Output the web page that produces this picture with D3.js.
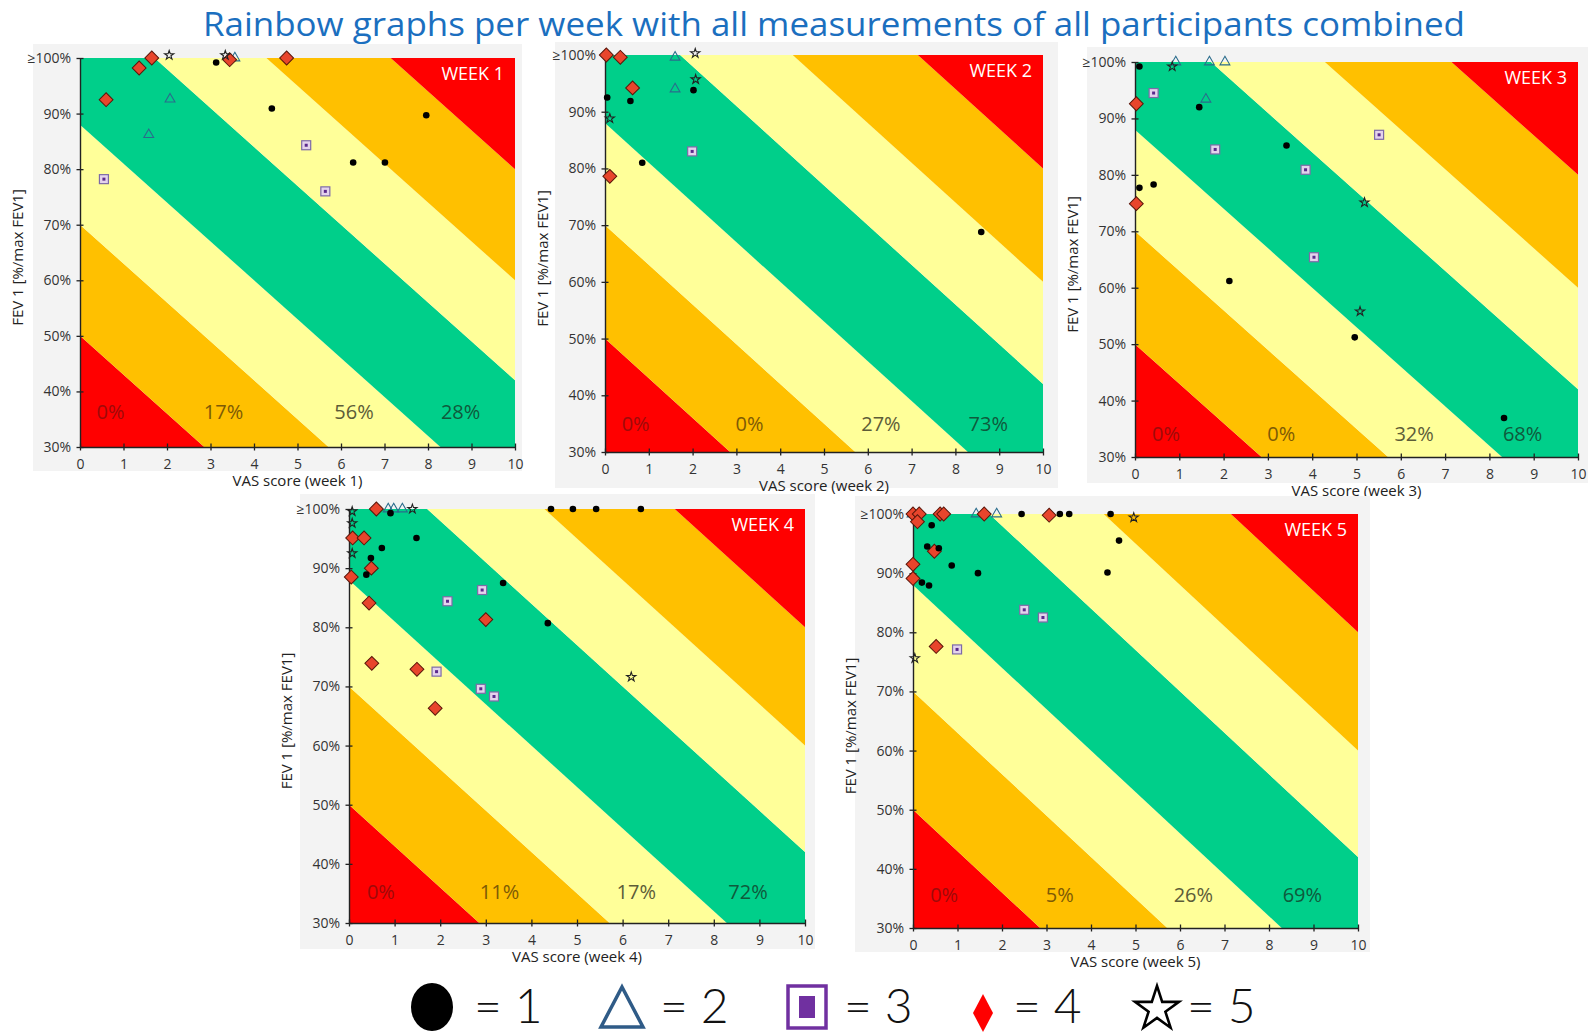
<!DOCTYPE html>
<html>
<head>
<meta charset="utf-8">
<script src="https://cdn.jsdelivr.net/npm/d3@7"></script>
<style>
  body { margin: 0; background: #fff; }
  svg { display: block; font-family: "Open Sans", "Noto Sans", sans-serif; }
</style>
</head>
<body>
<svg id="chart" width="1588" height="1033"></svg>
<script>
// ---------------- DATA ----------------
const titleText = "Rainbow graphs per week with all measurements of all participants combined";
const weekNames = ["WEEK 1", "WEEK 2", "WEEK 3", "WEEK 4", "WEEK 5"];
const xTitles = ["VAS score (week 1)", "VAS score (week 2)", "VAS score (week 3)", "VAS score (week 4)", "VAS score (week 5)"];
const yTitle = "FEV 1 [%/max FEV1]";
const vasTicks = [0, 1, 2, 3, 4, 5, 6, 7, 8, 9, 10];
const fevTicks = [30, 40, 50, 60, 70, 80, 90, 100];
const fevTickLabels = ["30%", "40%", "50%", "60%", "70%", "80%", "90%", "\u2265100%"];

// Zone boundary lines: FEV = b - 7 * VAS, b = FEV value where the line meets VAS 0
const zoneBoundaryB = [50, 70, 88, 112, 130, 150];
const zoneSlope = -7;
const zoneColors = ["#ff0000", "#ffc000", "#ffff99", "#00cf8a", "#ffff99", "#ffc000", "#ff0000"];

// Percentage labels per zone (red, orange, yellow, green)
const zoneLabelVAS = [0.7, 3.3, 6.3, 8.75];
const zoneLabelFEV = [36.3, 35, 34.2, 35.4, 35.6];
const week1Zones = ["0%", "17%", "56%", "28%"];
const week2Zones = ["0%", "0%", "27%", "73%"];
const week3Zones = ["0%", "0%", "32%", "68%"];
const week4Zones = ["0%", "11%", "17%", "72%"];
const week5Zones = ["0%", "5%", "26%", "69%"];

// Points: [VAS score, FEV1 %, participant]
const week1Points = [
  [3.13, 99.2, 1], [4.41, 90.9, 1], [6.28, 81.2, 1], [7.01, 81.2, 1], [7.96, 89.7, 1],
  [2.07, 92.6, 2], [1.58, 86.2, 2], [3.56, 100, 2],
  [0.55, 78.2, 3], [5.2, 84.3, 3], [5.64, 76.0, 3],
  [0.6, 92.5, 4], [1.36, 98.2, 4], [1.65, 100, 4], [3.44, 99.7, 4], [4.75, 100, 4],
  [2.05, 100.5, 5], [3.34, 100.5, 5]
];
const week2Points = [
  [0.05, 92.5, 1], [0.58, 91.9, 1], [2.02, 93.8, 1], [0.85, 81.0, 1], [8.59, 68.8, 1],
  [1.6, 99.6, 2], [1.6, 94.0, 2],
  [1.99, 83.0, 3],
  [0.03, 100, 4], [0.35, 99.6, 4], [0.63, 94.2, 4], [0.11, 78.6, 4],
  [2.06, 100.3, 5], [2.07, 95.7, 5], [0.11, 88.8, 5]
];
const week3Points = [
  [0.1, 99.2, 1], [0.1, 77.7, 1], [0.42, 78.3, 1], [1.45, 92.0, 1], [3.42, 85.2, 1],
  [2.13, 61.2, 1], [4.96, 51.2, 1], [8.33, 36.9, 1],
  [0.92, 100, 2], [1.68, 100, 2], [2.03, 100, 2], [1.6, 93.4, 2],
  [0.42, 94.5, 3], [1.81, 84.5, 3], [3.85, 80.9, 3], [5.51, 87.1, 3], [4.04, 65.4, 3],
  [0.03, 92.6, 4], [0.03, 74.9, 4],
  [0.84, 99.2, 5], [5.18, 75.1, 5], [5.08, 55.8, 5]
];
const week4Points = [
  [0.91, 99.3, 1], [1.48, 95.1, 1], [0.72, 93.4, 1], [0.48, 91.7, 1], [0.38, 88.9, 1],
  [3.38, 87.5, 1], [4.36, 80.7, 1], [4.43, 100, 1], [4.91, 100, 1], [5.42, 100, 1], [6.4, 100, 1],
  [0.86, 100, 2], [0.98, 100, 2], [1.17, 100, 2],
  [2.16, 84.4, 3], [2.92, 86.3, 3], [1.92, 72.5, 3], [2.89, 69.6, 3], [3.18, 68.3, 3],
  [0.6, 100, 4], [0.08, 95.1, 4], [0.33, 95.1, 4], [0.49, 90.0, 4], [0.05, 88.5, 4],
  [0.44, 84.1, 4], [3.0, 81.3, 4], [0.5, 73.9, 4], [1.49, 72.9, 4], [1.89, 66.3, 4],
  [1.39, 100, 5], [0.07, 99.6, 5], [0.07, 97.6, 5], [0.07, 92.5, 5], [6.19, 71.6, 5]
];
const week5Points = [
  [0.42, 98.1, 1], [0.32, 94.5, 1], [0.58, 94.2, 1], [0.87, 91.3, 1], [1.46, 90.0, 1],
  [0.2, 88.4, 1], [0.36, 87.9, 1], [2.44, 100, 1], [3.3, 100, 1], [3.51, 100, 1],
  [4.44, 100, 1], [4.63, 95.5, 1], [4.37, 90.1, 1],
  [-0.02, 100, 2], [1.42, 100, 2], [1.88, 100, 2],
  [2.5, 83.8, 3], [2.92, 82.5, 3], [0.99, 77.1, 3],
  [0, 100, 4], [0.14, 100, 4], [0.1, 98.7, 4], [0.61, 100, 4], [0.69, 100, 4], [1.6, 100, 4],
  [3.06, 99.8, 4], [0.48, 93.7, 4], [0, 91.5, 4], [0, 89.1, 4], [0.52, 77.6, 4],
  [4.96, 99.4, 5], [0.04, 75.6, 5]
];
const legendParticipants = [1, 2, 3, 4, 5];
const legendLabels = ["= 1", "= 2", "= 3", "= 4", "= 5"];

// ---------------- LAYOUT ----------------
const panels = [
  { pts: week1Points, zones: week1Zones, x0: 80,   x1: 515,  y0: 58,  y1: 447, bg: [33, 44, 522, 471] },
  { pts: week2Points, zones: week2Zones, x0: 605,  x1: 1043, y0: 55,  y1: 452, bg: [555, 42, 1058, 488] },
  { pts: week3Points, zones: week3Zones, x0: 1135, x1: 1578, y0: 62,  y1: 457, bg: [1087, 47, 1588, 483] },
  { pts: week4Points, zones: week4Zones, x0: 349,  x1: 805,  y0: 509, y1: 923, bg: [300, 494, 815, 949] },
  { pts: week5Points, zones: week5Zones, x0: 913,  x1: 1358, y0: 514, y1: 928, bg: [855, 496, 1370, 952] }
];
const zoneTextColors = ["#9e0a0a", "#7d5a06", "#5c5c38", "#0f5a3c"];
const drawOrder = [3, 2, 4, 1, 5];
const legendCenters = [432, 622, 807, 983, 1157];
const legendTextOffsets = [42, 38, 37, 30, 30];

const svg = d3.select("#chart");

// title
svg.append("text")
  .attr("x", 203).attr("y", 36)
  .attr("textLength", 1262).attr("lengthAdjust", "spacingAndGlyphs")
  .attr("font-size", 33).attr("fill", "#1b6fbf")
  .text(titleText);

const defs = svg.append("defs");

function plotMarker(g, type, cx, cy) {
  if (type === 1) {
    g.append("circle").attr("cx", cx).attr("cy", cy).attr("r", 3.3).attr("fill", "#000");
  } else if (type === 2) {
    g.append("path").attr("d", d3.symbol(d3.symbolTriangle, 42)())
      .attr("transform", `translate(${cx},${cy})`)
      .attr("fill", "none").attr("stroke", "#2a6c8c").attr("stroke-width", 1.1);
  } else if (type === 3) {
    g.append("rect").attr("x", cx - 4.5).attr("y", cy - 4.5).attr("width", 9).attr("height", 9)
      .attr("fill", "#e4d3ec").attr("stroke", "#7d6aa8").attr("stroke-width", 1.2);
    g.append("rect").attr("x", cx - 1.5).attr("y", cy - 1.5).attr("width", 3).attr("height", 3)
      .attr("fill", "#5b2a8c");
  } else if (type === 4) {
    g.append("path").attr("d", d3.symbol(d3.symbolSquare, 96)())
      .attr("transform", `translate(${cx},${cy}) rotate(45)`)
      .attr("fill", "#e8452c").attr("stroke", "#5a160a").attr("stroke-width", 1);
  } else if (type === 5) {
    g.append("path").attr("d", d3.symbol(d3.symbolStar, 26)())
      .attr("transform", `translate(${cx},${cy})`)
      .attr("fill", "none").attr("stroke", "#222").attr("stroke-width", 1.1);
  }
}

panels.forEach((p, i) => {
  const g = svg.append("g");
  // background
  g.append("rect").attr("x", p.bg[0]).attr("y", p.bg[1])
    .attr("width", p.bg[2] - p.bg[0]).attr("height", p.bg[3] - p.bg[1])
    .attr("fill", "#f3f3f3");

  const x = d3.scaleLinear().domain([0, 10]).range([p.x0, p.x1]);
  const y = d3.scaleLinear().domain([30, 100]).range([p.y1, p.y0]);

  const clipId = "clip" + i;
  defs.append("clipPath").attr("id", clipId).append("rect")
    .attr("x", p.x0).attr("y", p.y0).attr("width", p.x1 - p.x0).attr("height", p.y1 - p.y0);

  // zones
  const bounds = [-300].concat(zoneBoundaryB, [500]);
  const zg = g.append("g").attr("clip-path", `url(#${clipId})`);
  zoneColors.forEach((c, k) => {
    const b1 = bounds[k], b2 = bounds[k + 1];
    const xa = -10, xb = 20;
    const pts = [
      [x(xa), y(b1 + zoneSlope * xa)], [x(xb), y(b1 + zoneSlope * xb)],
      [x(xb), y(b2 + zoneSlope * xb)], [x(xa), y(b2 + zoneSlope * xa)]
    ];
    zg.append("path").attr("d", d3.line()(pts) + "Z").attr("fill", c);
  });

  // zone labels
  p.zones.forEach((t, k) => {
    g.append("text")
      .attr("x", x(zoneLabelVAS[k])).attr("y", y(zoneLabelFEV[i]))
      .attr("text-anchor", "middle").attr("dominant-baseline", "central")
      .attr("font-size", 20).attr("fill", zoneTextColors[k])
      .text(t);
  });

  // week label
  g.append("text")
    .attr("x", p.x1 - 11).attr("y", p.y0 + 22)
    .attr("text-anchor", "end").attr("font-size", 18).attr("fill", "#fff")
    .text(weekNames[i]);

  // axes
  const ax = g.append("g").attr("transform", `translate(0,${p.y1})`)
    .call(d3.axisBottom(x).tickValues(vasTicks).tickFormat(d3.format("d")).tickSizeOuter(0));
  ax.selectAll(".tick line").attr("y1", -3.5).attr("y2", 3.5).attr("stroke", "#222").attr("stroke-width", 1.3);
  ax.selectAll(".tick text").attr("y", 12).attr("font-size", 14).attr("fill", "#333")
    .attr("font-family", "\"Open Sans\", sans-serif");
  ax.select(".domain").attr("stroke", "#222").attr("stroke-width", 1.4);

  const ay = g.append("g").attr("transform", `translate(${p.x0},0)`)
    .call(d3.axisLeft(y).tickValues(fevTicks).tickFormat((d, j) => fevTickLabels[j]).tickSizeOuter(0));
  ay.selectAll(".tick line").attr("x1", -3.5).attr("x2", 3.5).attr("stroke", "#222").attr("stroke-width", 1.3);
  ay.selectAll(".tick text").attr("x", -9).attr("font-size", 14).attr("fill", "#333")
    .attr("font-family", "\"Open Sans\", sans-serif");
  ay.select(".domain").attr("stroke", "#222").attr("stroke-width", 1.4);

  // axis titles
  g.append("text")
    .attr("x", (p.x0 + p.x1) / 2).attr("y", p.y1 + 39)
    .attr("text-anchor", "middle").attr("font-size", 15).attr("fill", "#222")
    .text(xTitles[i]);
  g.append("text")
    .attr("transform", `translate(${p.x0 - 57},${(p.y0 + p.y1) / 2 + 5}) rotate(-90)`)
    .attr("text-anchor", "middle").attr("font-size", 15).attr("fill", "#222")
    .text(yTitle);

  // points
  const mg = g.append("g");
  drawOrder.forEach(type => {
    p.pts.filter(d => d[2] === type).forEach(d => plotMarker(mg, type, x(d[0]), y(d[1])));
  });
});

// ---------------- LEGEND ----------------
const lg = svg.append("g");
legendParticipants.forEach((v, k) => {
  const cx = legendCenters[k];
  const cy = 1007;
  if (v === 1) {
    lg.append("ellipse").attr("cx", cx).attr("cy", cy).attr("rx", 21).attr("ry", 24).attr("fill", "#000");
  } else if (v === 2) {
    lg.append("path").attr("d", `M${cx},${cy - 20} L${cx + 21},${cy + 20} L${cx - 21},${cy + 20} Z`)
      .attr("fill", "none").attr("stroke", "#2f5b87").attr("stroke-width", 3.5);
  } else if (v === 3) {
    lg.append("rect").attr("x", cx - 19).attr("y", cy - 21).attr("width", 38).attr("height", 42)
      .attr("fill", "#fff").attr("stroke", "#7030a0").attr("stroke-width", 3.5);
    lg.append("rect").attr("x", cx - 8).attr("y", cy - 11).attr("width", 16).attr("height", 22)
      .attr("fill", "#7030a0");
  } else if (v === 4) {
    lg.append("path").attr("d", `M${cx},${cy - 13} L${cx + 10},${cy + 6} L${cx},${cy + 25} L${cx - 10},${cy + 6} Z`)
      .attr("fill", "#ff0000");
  } else if (v === 5) {
    lg.append("path").attr("d", d3.symbol(d3.symbolStar, 600)())
      .attr("transform", `translate(${cx},${cy + 2})`)
      .attr("fill", "none").attr("stroke", "#000").attr("stroke-width", 2.6);
  }
  lg.append("text")
    .attr("x", cx + legendTextOffsets[k]).attr("y", 1023)
    .attr("font-size", 48).attr("font-family", "Lato, \"Open Sans\", sans-serif").attr("font-weight", 300)
    .attr("fill", "#111")
    .text(legendLabels[k]);
});
</script>
</body>
</html>
